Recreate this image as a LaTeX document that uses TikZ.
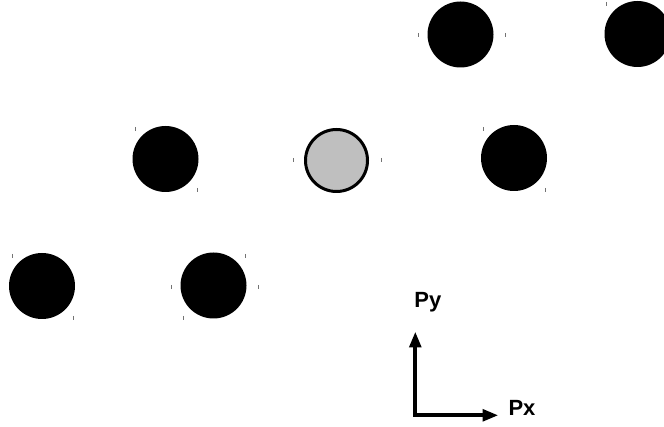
\documentclass[tikz,border=0pt]{standalone}
\usepackage{fontspec}
\setmainfont{Liberation Sans}
\usetikzlibrary{arrows.meta}
\newcommand{\lblfont}{\fontsize{22pt}{26pt}\selectfont\bfseries}
\tikzset{
  atom/.style={circle,fill=black,draw=none,minimum size=66pt,inner sep=0pt},
  probe/.style={circle,fill=black!25,draw=black,line width=3pt,minimum size=62pt,inner sep=0pt},
  tick/.style={draw=black!55,line width=0.8pt},
  axis/.style={line width=4pt,{Triangle[length=16pt,width=11.5pt]}-{Triangle[length=16pt,width=11.5pt]}},
  lbl/.style={inner sep=0pt,anchor=base}
}
\begin{document}
\begin{tikzpicture}[x=1pt,y=-1pt]
\useasboundingbox (0,0) rectangle (664,427);
\node[atom] (a1) at (460.5,34.5) {};
\node[atom] (a2) at (637.5,34) {};
\node[atom] (b1) at (165.5,159) {};
\node[probe] (b2) at (336.5,160.5) {};
\node[atom] (b3) at (514,158) {};
\node[atom] (c1) at (42,286) {};
\node[atom] (c2) at (213.5,285.5) {};
% small ticks
\foreach \x/\y in {418/35,505/35,606/4,135/129,197/190,293/160,381/160,483/129,545/190,12/256,73/318,171/287,258/287,245/256,183/318}
  \draw[tick] (\x,\y-2) -- (\x,\y+2);
% axes
\coordinate (o) at (415.3,415.3);
\coordinate (ytip) at (415.3,331.5);
\coordinate (xtip) at (498.5,415.3);
\draw[axis] (ytip) -- (o) -- (xtip);
\node[lbl] (py) at (427.8,307.3) {\lblfont Py};
\node[lbl] (px) at (522,415.5) {\lblfont Px};
\end{tikzpicture}
\end{document}
